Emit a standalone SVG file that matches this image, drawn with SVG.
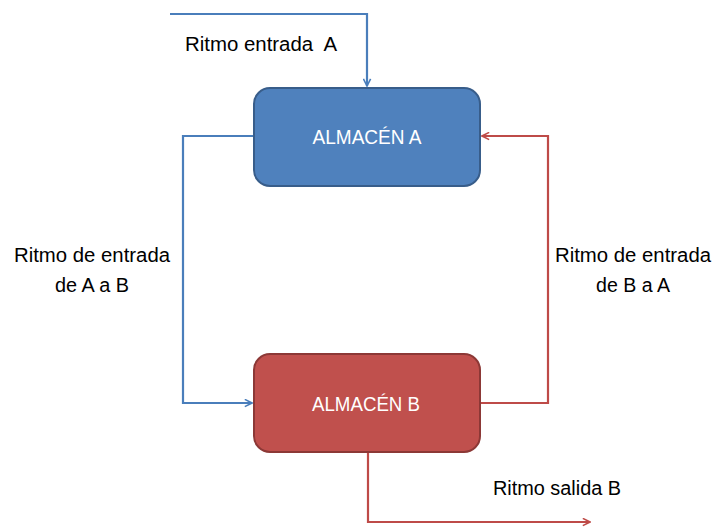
<svg xmlns="http://www.w3.org/2000/svg" width="713" height="529" viewBox="0 0 713 529">
<style>
.lbl{font-family:"Liberation Sans",Arial,sans-serif;font-size:20px;fill:#000;white-space:pre}
.box{font-family:"Liberation Sans",Arial,sans-serif;font-size:20px;fill:#fff;text-anchor:middle}
.blue{stroke:#4A7EBB;stroke-width:2.2;fill:none}
.red{stroke:#BE4B48;stroke-width:2.2;fill:none}
</style>
<defs>
<marker id="ab" viewBox="0 0 10 10" refX="9" refY="5" markerWidth="9" markerHeight="9" markerUnits="userSpaceOnUse" orient="auto"><path d="M1,1 L9,5 L1,9" fill="none" stroke="#4A7EBB" stroke-width="1.8"/></marker>
<marker id="ar" viewBox="0 0 10 10" refX="9" refY="5" markerWidth="9" markerHeight="9" markerUnits="userSpaceOnUse" orient="auto"><path d="M1,1 L9,5 L1,9" fill="none" stroke="#BE4B48" stroke-width="1.8"/></marker>
</defs>
<g id="connectors">
<path class="blue" d="M170,14 H367 V86" marker-end="url(#ab)"/>
<path class="blue" d="M253,136 H183 V403 H252" marker-end="url(#ab)"/>
<path class="red" d="M481,403 H548 V136 H482" marker-end="url(#ar)"/>
<path class="red" d="M368,453 V522 H590" marker-end="url(#ar)"/>
</g>
<g id="almacenA">
<rect x="254" y="88" width="226" height="98" rx="16" fill="#4F81BD" stroke="#385D8A" stroke-width="2"/>
<text class="box" x="367" y="144" textLength="109" lengthAdjust="spacingAndGlyphs">ALMACÉN A</text>
</g>
<g id="almacenB">
<rect x="254" y="354" width="226" height="98" rx="16" fill="#C0504D" stroke="#8C3836" stroke-width="2"/>
<text class="box" x="366" y="411" textLength="108" lengthAdjust="spacingAndGlyphs">ALMACÉN B</text>
</g>
<g id="labels">
<text class="lbl" x="185" y="51" textLength="152" lengthAdjust="spacingAndGlyphs" xml:space="preserve">Ritmo entrada  A</text>
<text class="lbl" x="14" y="262" textLength="156" lengthAdjust="spacingAndGlyphs">Ritmo de entrada</text>
<text class="lbl" x="55" y="292" textLength="74" lengthAdjust="spacingAndGlyphs">de A a B</text>
<text class="lbl" x="555" y="262" textLength="156" lengthAdjust="spacingAndGlyphs">Ritmo de entrada</text>
<text class="lbl" x="596" y="292" textLength="74" lengthAdjust="spacingAndGlyphs">de B a A</text>
<text class="lbl" x="493" y="495" textLength="128" lengthAdjust="spacingAndGlyphs">Ritmo salida B</text>
</g>
</svg>
